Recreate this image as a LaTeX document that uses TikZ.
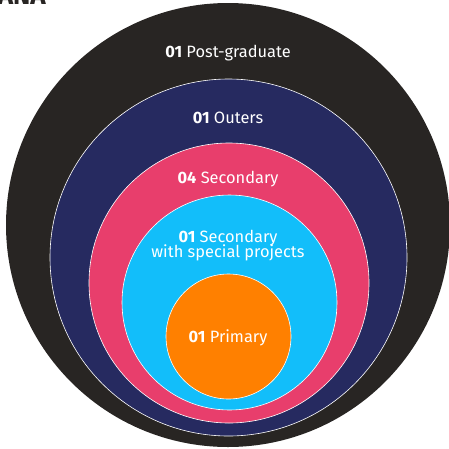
\documentclass[tikz,border=0pt]{standalone}
\usepackage{fontspec}
\setmainfont{Fira Sans}
\definecolor{cblack}{RGB}{40,37,35}
\definecolor{cnavy}{RGB}{38,42,96}
\definecolor{cpink}{RGB}{232,62,108}
\definecolor{ccyan}{RGB}{18,190,250}
\definecolor{corange}{RGB}{255,128,0}
\tikzset{
  ring/.style={circle, draw=white, line width=0.6pt, inner sep=0pt},
  lbl/.style={text=white, font=\fontsize{16.4}{17}\selectfont, align=center, inner sep=0pt, anchor=base},
}
\begin{document}
\begin{tikzpicture}[x=1pt,y=-1pt]
\useasboundingbox (0,0) rectangle (449,448);
\begin{scope}
\clip (0,0) rectangle (449,448);
\node[anchor=south west, inner sep=0pt, font=\fontsize{26}{26}\bfseries\selectfont, text=cblack] (title) at (-10,4.5) {IANA};
\node[ring, draw=none, fill=cblack, minimum size=444pt] (c1) at (228,225) {};
\node[ring, fill=cnavy, minimum size=357pt] (c2) at (228.5,257.5) {};
\node[ring, fill=cpink, minimum size=280pt] (c3) at (229,283) {};
\node[ring, fill=ccyan, minimum size=215pt] (c4) at (229.5,302.5) {};
\node[ring, fill=corange, minimum size=125pt] (c5) at (228.5,336.5) {};
\end{scope}
\node[lbl] (t1) at (228,57) {\textbf{01} Post-graduate};
\node[lbl] (t2) at (228,123) {\textbf{01} Outers};
\node[lbl] (t3) at (228,183) {\textbf{04} Secondary};
\node[lbl, anchor=base] (t4a) at (228,242) {\textbf{01} Secondary};
\node[lbl, anchor=base] (t4b) at (228,257) {with special projects};
\node[lbl] (t5) at (228,342) {\textbf{01} Primary};
\end{tikzpicture}
\end{document}
